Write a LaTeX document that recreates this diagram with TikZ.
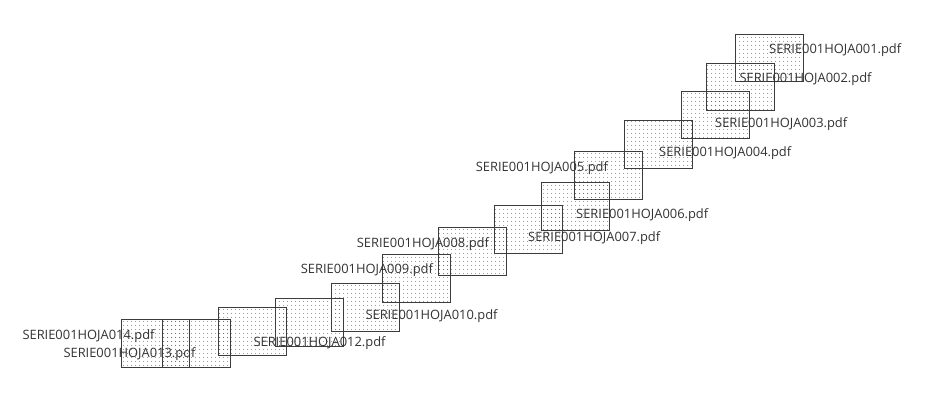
\documentclass[tikz,border=0pt]{standalone}
\usepackage{fontspec}
\setmainfont{Open Sans}
\usetikzlibrary{patterns.meta}
\definecolor{edge}{HTML}{3C3C3C}
\definecolor{dotc}{HTML}{555555}
\definecolor{txt}{HTML}{333333}
\tikzset{
  sheet/.style={draw=edge, line width=0.9pt, inner sep=0pt, anchor=north west,
    minimum width=67.5pt, minimum height=47.5pt,
    pattern={Dots[distance=4pt, radius=0.5pt]}, pattern color=dotc},
  lbl/.style={anchor=base west, inner sep=0pt, text=txt, font=\fontsize{12.9pt}{14pt}\selectfont}
}
\begin{document}
\begin{tikzpicture}[x=1pt, y=-1pt]
\useasboundingbox (0,0) rectangle (942,401);
% sheets
\node[sheet] (r1)  at (735,34)  {};
\node[sheet] (r2)  at (706,63)  {};
\node[sheet] (r3)  at (681,91)  {};
\node[sheet] (r4)  at (624,120) {};
\node[sheet] (r5)  at (574,151) {};
\node[sheet] (r6)  at (541,182) {};
\node[sheet] (r7)  at (494,205) {};
\node[sheet] (r8)  at (438,227) {};
\node[sheet] (r9)  at (382,254) {};
\node[sheet] (r10) at (331,283) {};
\node[sheet] (r11) at (275,298) {};
\node[sheet] (r12) at (218,307) {};
\node[sheet] (r13) at (162,319) {};
\node[sheet] (r14) at (121,319) {};
% labels
\node[lbl] (l1)  at (769,53.8)  {SERIE001HOJA001.pdf};
\node[lbl] (l2)  at (739.3,82.8) {SERIE001HOJA002.pdf};
\node[lbl] (l3)  at (715,127.8) {SERIE001HOJA003.pdf};
\node[lbl] (l4)  at (659,156.8) {SERIE001HOJA004.pdf};
\node[lbl] (l5)  at (475.7,171.2) {SERIE001HOJA005.pdf};
\node[lbl] (l6)  at (576,218.2) {SERIE001HOJA006.pdf};
\node[lbl] (l7)  at (528,241.2) {SERIE001HOJA007.pdf};
\node[lbl] (l8)  at (356.7,247.8) {SERIE001HOJA008.pdf};
\node[lbl] (l9)  at (300.7,273.8) {SERIE001HOJA009.pdf};
\node[lbl] (l10) at (365.3,319.5) {SERIE001HOJA010.pdf};
\node[lbl] (l12) at (253.3,346.2) {SERIE001HOJA012.pdf};
\node[lbl] (l13) at (63.3,357.2) {SERIE001HOJA013.pdf};
\node[lbl] (l14) at (22.3,339.5) {SERIE001HOJA014.pdf};
\end{tikzpicture}
\end{document}
